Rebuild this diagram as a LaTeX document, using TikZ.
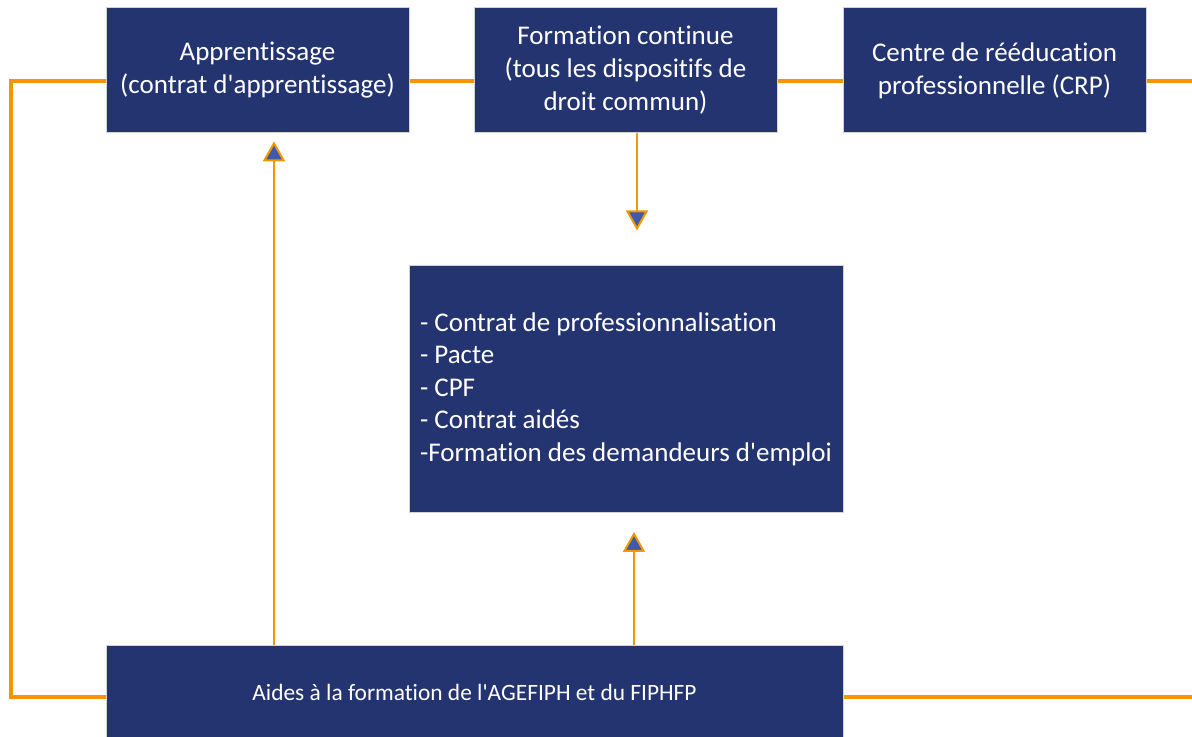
\documentclass[tikz,border=0pt]{standalone}
\usepackage{fontspec}
\setmainfont{Carlito}[Ligatures={CommonOff,TeXOff}]
\usetikzlibrary{arrows.meta}
\definecolor{navy}{RGB}{36,52,112}
\definecolor{orng}{RGB}{243,150,0}
\definecolor{tipblue}{RGB}{63,90,168}
\tikzset{
  box/.style={rectangle, fill=navy, draw=gray!35, line width=0.5pt, text=white, align=center, inner sep=0pt,
    font=\fontsize{13.5}{16.5}\selectfont},
  thickline/.style={draw=orng, line width=2pt},
  arr/.style={draw=orng, line width=1pt, -{Triangle[width=11pt,length=10pt,fill=tipblue]}}
}
\begin{document}
\begin{tikzpicture}[x=0.5pt,y=-0.5pt]
\useasboundingbox (0,0) rectangle (1192,737);
\node[box, minimum width=151.5pt, minimum height=62.5pt] (a) at (257.5,70.5) {Apprentissage\\(contrat d'apprentissage)};
\node[box, minimum width=151.5pt, minimum height=62.5pt] (f) at (625.5,70.5) {Formation continue\\(tous les dispositifs de\\droit commun)};
\node[box, minimum width=151.5pt, minimum height=62.5pt] (c) at (994.5,70.5) {Centre de rééducation\\professionnelle (CRP)};
\node[box, minimum width=217pt, minimum height=123pt, align=left,
  font=\fontsize{13.5}{16.3}\selectfont] (m) at (626,389) {- Contrat de professionnalisation\\- Pacte\\- CPF\\- Contrat aidés\\-Formation des demandeurs d'emploi};
\node[box, minimum width=368.5pt, minimum height=47.5pt, font=\fontsize{11.7}{14}\selectfont] (b) at (474.5,692.5) {Aides à la formation de l'AGEFIPH et du FIPHFP};
\coordinate (tl) at (11,81);
\coordinate (bl) at (11,697);
\coordinate (tr) at (1194,81);
\coordinate (br) at (1194,697);
\coordinate (x1) at (274,0);
\coordinate (x2) at (637,0);
\coordinate (x3) at (634,0);
\draw[thickline, line join=miter] (a.west |- tl) -- (tl) -- (bl) -- (b.west |- bl);
\draw[thickline] (a.east |- tl) -- (f.west |- tl);
\draw[thickline] (f.east |- tl) -- (c.west |- tl);
\draw[thickline] (c.east |- tl) -- (tr);
\draw[thickline] (b.east |- br) -- (br);
\draw[arr, shorten >=3.9pt] (b.north -| x1) -- (a.south -| x1);
\draw[arr, shorten >=17.5pt] (f.south -| x2) -- (m.north -| x2);
\draw[arr, shorten >=9.7pt] (b.north -| x3) -- (m.south -| x3);
\end{tikzpicture}
\end{document}
